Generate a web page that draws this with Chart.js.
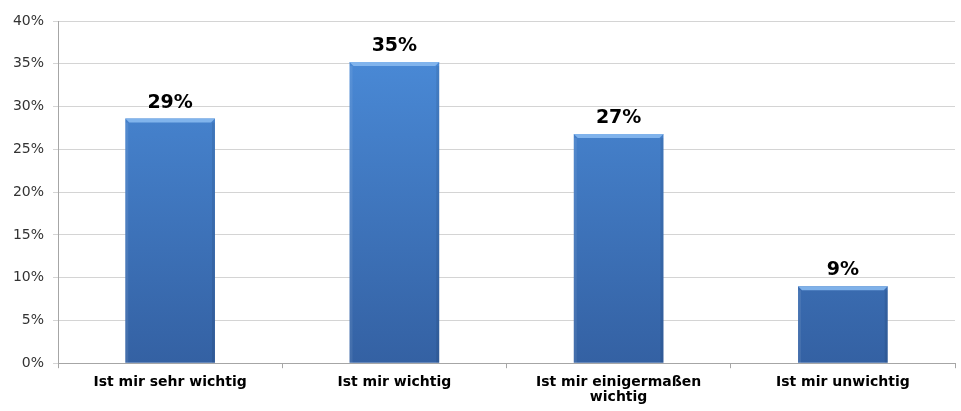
<!DOCTYPE html>
<html>
<head>
<meta charset="utf-8">
<script src="https://cdn.jsdelivr.net/npm/chart.js@4/dist/chart.umd.min.js"></script>
<style>
  html, body { margin: 0; padding: 0; background: #fff; }
  #wrap { width: 961px; height: 411px; }
</style>
</head>
<body>
<div id="wrap"><canvas id="myChart"></canvas></div>
<script>
const categories = [
  "Ist mir sehr wichtig",
  "Ist mir wichtig",
  ["Ist mir einigermaßen", "wichtig"],
  "Ist mir unwichtig",
];
const shares = [28.6, 35.2, 26.8, 9.0];
const shareLabels = ["29%", "35%", "27%", "9%"];
const yTicks = [0, 5, 10, 15, 20, 25, 30, 35, 40];

const fontFamily = "'DejaVu Sans', Verdana, sans-serif";

// bar fill: light at top, darker toward the axis
const barFill = (context) => {
  const area = context.chart.chartArea;
  if (!area) return "#3f7acb";
  const g = context.chart.ctx.createLinearGradient(0, area.top, 0, area.bottom);
  g.addColorStop(0, "#4c8edc");
  g.addColorStop(1, "#3461a3");
  return g;
};

// bevelled top edge + value text above each bar
const barExtras = {
  id: "barExtras",
  afterDatasetsDraw(chart) {
    const ctx = chart.ctx;
    const meta = chart.getDatasetMeta(0);
    ctx.save();
    meta.data.forEach((bar, i) => {
      const half = bar.width / 2;
      const left = bar.x - half, right = bar.x + half;
      ctx.fillStyle = "rgba(135,185,240,0.9)";
      ctx.beginPath();
      ctx.moveTo(left, bar.y);
      ctx.lineTo(right, bar.y);
      ctx.lineTo(right - 4, bar.y + 4);
      ctx.lineTo(left + 4, bar.y + 4);
      ctx.closePath();
      ctx.fill();
      ctx.fillStyle = "rgba(255,255,255,0.08)";
      ctx.fillRect(left, bar.y + 4, 3, bar.base - bar.y - 4);
      ctx.fillStyle = "rgba(0,0,0,0.08)";
      ctx.fillRect(right - 3, bar.y + 4, 3, bar.base - bar.y - 4);

      ctx.fillStyle = "#000";
      ctx.font = "bold 19px " + fontFamily;
      ctx.textAlign = "center";
      ctx.textBaseline = "alphabetic";
      ctx.fillText(shareLabels[i], bar.x, bar.y - 11);
    });
    ctx.restore();
  },
};

const ctx1 = document.getElementById("myChart").getContext("2d");
const myChart = new Chart(ctx1, {
  type: "bar",
  data: {
    labels: categories,
    datasets: [
      {
        data: shares,
        backgroundColor: barFill,
        borderWidth: 0,
        categoryPercentage: 1,
        barPercentage: 0.4,
      },
    ],
  },
  options: {
    responsive: true,
    maintainAspectRatio: false,
    animation: false,
    layout: { padding: { top: 21, right: 6, left: 0, bottom: 0 } },
    plugins: {
      legend: { display: false },
      tooltip: { enabled: false },
    },
    scales: {
      x: {
        grid: {
          offset: true,
          drawOnChartArea: false,
          drawTicks: true,
          tickLength: 5,
          color: "#a6a6a6",
        },
        border: { color: "#a6a6a6" },
        ticks: {
          color: "#000",
          font: { family: fontFamily, size: 14, weight: "bold", lineHeight: 1.1 },
          maxRotation: 0,
          autoSkip: false,
          padding: 6,
        },
      },
      y: {
        min: 0,
        max: 40,
        afterBuildTicks: (scale) => {
          scale.ticks = yTicks.map((v) => ({ value: v }));
        },
        afterFit: (scale) => {
          scale.width = 58;
        },
        grid: {
          color: "#d4d4d4",
          drawTicks: true,
          tickLength: 5,
        },
        border: { color: "#a6a6a6" },
        ticks: {
          color: "#333",
          font: { family: fontFamily, size: 14 },
          padding: 9,
          callback: (v) => v + "%",
        },
      },
    },
  },
  plugins: [barExtras],
});
</script>
</body>
</html>
